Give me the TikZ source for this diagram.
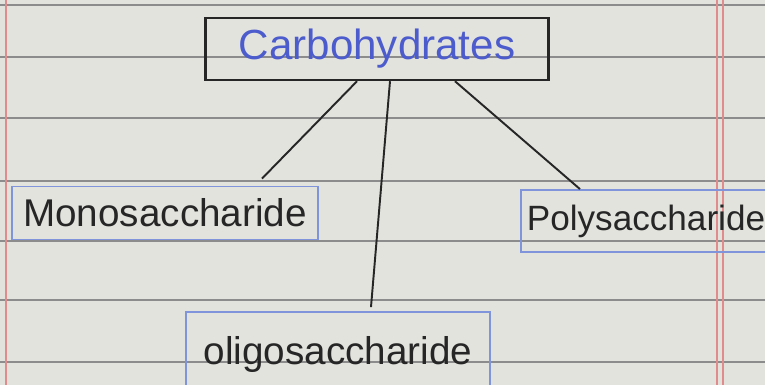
\documentclass[tikz,border=0pt]{standalone}
\usepackage{fontspec}
\setmainfont{Liberation Sans}
\usetikzlibrary{positioning}

\definecolor{paper}{rgb}{0.89,0.89,0.87}
\definecolor{inkblue}{rgb}{0.30,0.36,0.80}
\definecolor{boxblue}{rgb}{0.50,0.58,0.86}
\definecolor{marginred}{rgb}{0.88,0.55,0.55}

\begin{document}
\begin{tikzpicture}[
    x=0.02cm, y=-0.02cm,
    ruling/.style={draw=black!45, line width=0.8pt},
    margin/.style={draw=marginred, line width=0.6pt},
    topbox/.style={draw=black!85, line width=1.4pt, minimum width=6.86cm,
        minimum height=1.24cm, text=inkblue, font=\fontsize{24}{28}\selectfont},
    subbox/.style={draw=boxblue, line width=1pt, text=black!85,
        font=\fontsize{22}{26}\selectfont},
    link/.style={draw=black!85, line width=1.1pt}
]

% Ruled paper
\useasboundingbox (0,0) rectangle (765,385);
\fill[paper] (0,0) rectangle (765,385);
\foreach \y in {5,57,118,181,241,300,362} {
    \draw[ruling] (0,\y) -- (765,\y);
}
\draw[margin] (6,0) -- (6,385);
\draw[margin] (717,0) -- (717,385);
\draw[margin] (723,0) -- (723,385);

% Root
\node[topbox] (carb) at (377,49) {Carbohydrates};

% Classes
\node[subbox, minimum width=6.12cm, minimum height=1.06cm] (mono) at (165,213) {Monosaccharide};
\node[subbox, minimum width=4.96cm, minimum height=1.24cm,
    font=\fontsize{20}{24}\selectfont] (poly) at (646,221) {Polysaccharide};
\node[subbox, minimum width=6.08cm, minimum height=1.72cm] (oligo) at (338,355) {oligosaccharide};

% Links
\draw[link] ([xshift=-0.4cm]carb.south) -- ([xshift=1.94cm, yshift=0.14cm]mono.north);
\draw[link] ([xshift=0.26cm]carb.south) -- ([xshift=0.66cm, yshift=0.08cm]oligo.north);
\draw[link] ([xshift=1.56cm]carb.south) -- ([xshift=-1.32cm]poly.north);

\end{tikzpicture}
\end{document}
